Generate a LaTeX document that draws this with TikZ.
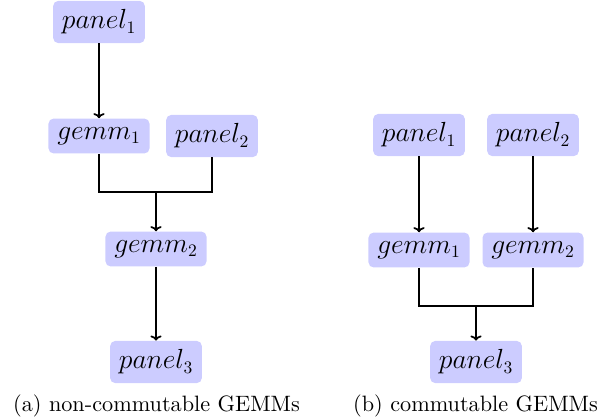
\documentclass[tikz,border=0pt]{standalone}
\usetikzlibrary{arrows.meta}
\begin{document}
\begin{tikzpicture}[x=0.625pt,y=-0.625pt,
  op/.style={fill=blue!20,rounded corners=3.2pt,inner sep=5.5pt,font=\fontsize{16}{19}\selectfont},
  conn/.style={line width=1.1pt},
  arr/.style={conn,-{To[length=3.2pt,width=7pt]}},
  captext/.style={inner sep=0pt,font=\fontsize{10}{12}\selectfont}]
\useasboundingbox (0,0) rectangle (602,419);
% (a)
\node[op] (a1) at (99,22) {$panel_1$};
\node[op] (ag1) at (99,136) {$gemm_1$};
\node[op] (a2) at (212,136) {$panel_2$};
\node[op] (ag2) at (156,249) {$gemm_2$};
\node[op] (a3) at (156,362) {$panel_3$};
\coordinate (aj) at (156,192);
\draw[arr] (a1) -- (ag1);
\draw[conn] (ag1.south) |- (aj) -| (a2.south);
\draw[arr] (aj) -- (ag2);
\draw[arr] (ag2) -- (a3);
\node[captext] (capa) at (156.5,406) {\scalebox{1.39}{(a) non-commutable GEMMs}};
% (b)
\node[op] (b1) at (419,135) {$panel_1$};
\node[op] (b2) at (533,135) {$panel_2$};
\node[op] (bg1) at (419,250) {$gemm_1$};
\node[op] (bg2) at (533,250) {$gemm_2$};
\node[op] (b3) at (476,362) {$panel_3$};
\coordinate (bj) at (476,306);
\draw[arr] (b1) -- (bg1);
\draw[arr] (b2) -- (bg2);
\draw[conn] (bg1.south) |- (bj) -| (bg2.south);
\draw[arr] (bj) -- (b3);
\node[captext] (capb) at (475.5,406) {\scalebox{1.39}{(b) commutable GEMMs}};
\end{tikzpicture}
\end{document}
